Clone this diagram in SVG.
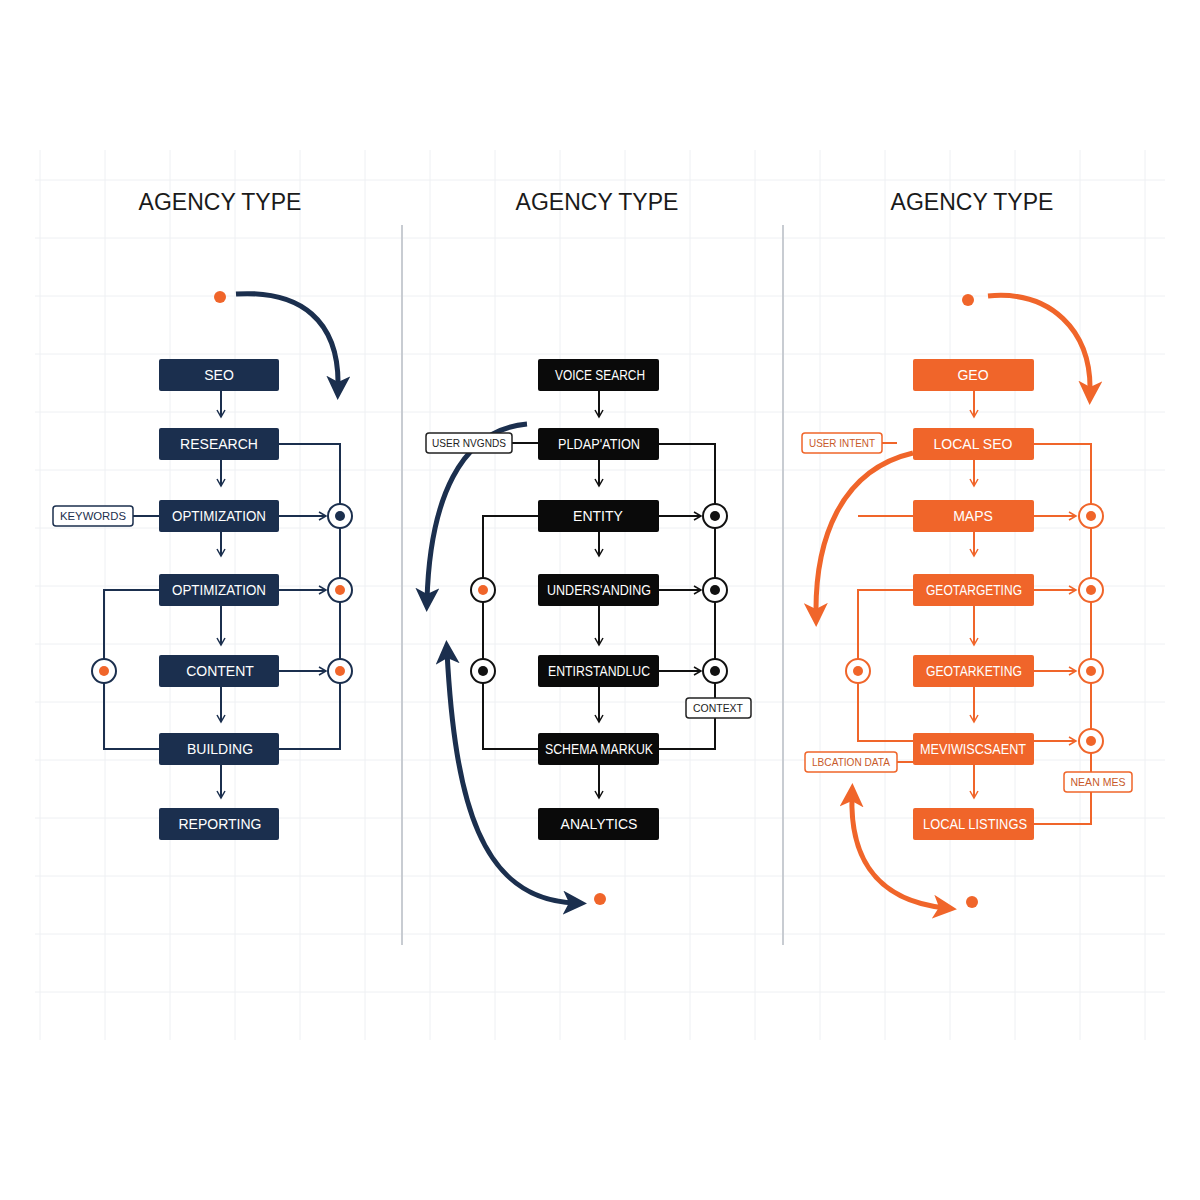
<svg xmlns="http://www.w3.org/2000/svg" width="1200" height="1200" viewBox="0 0 1200 1200">
<style>
.t{font-family:"Liberation Sans",Arial,sans-serif;font-size:14px;fill:#fff;text-anchor:middle;dominant-baseline:central}
.h{font-family:"Liberation Sans",Arial,sans-serif;font-size:23px;fill:#1a1a1a;text-anchor:middle}
.lb{font-family:"Liberation Sans",Arial,sans-serif;font-size:11px;text-anchor:middle;dominant-baseline:central}
.n{stroke:none;fill:#1b2f4e}.k{fill:#0a0a0a}.o{fill:#f0652a}
.cn{fill:none;stroke:#1b2f4e;stroke-width:2}.ck{fill:none;stroke:#111;stroke-width:2}.co{fill:none;stroke:#f0652a;stroke-width:2}
.grid{stroke:#eef0f3;stroke-width:1}
</style>
<defs>
<marker id="an" markerWidth="10" markerHeight="10" refX="8" refY="5" orient="auto" markerUnits="userSpaceOnUse"><path d="M1,1 L8,5 L1,9" fill="none" stroke="#1b2f4e" stroke-width="1.5"/></marker>
<marker id="ak" markerWidth="10" markerHeight="10" refX="8" refY="5" orient="auto" markerUnits="userSpaceOnUse"><path d="M1,1 L8,5 L1,9" fill="none" stroke="#111" stroke-width="1.5"/></marker>
<marker id="ao" markerWidth="10" markerHeight="10" refX="8" refY="5" orient="auto" markerUnits="userSpaceOnUse"><path d="M1,1 L8,5 L1,9" fill="none" stroke="#f0652a" stroke-width="1.5"/></marker>
<marker id="bn" markerWidth="24" markerHeight="24" refX="6" refY="6" orient="auto-start-reverse" markerUnits="userSpaceOnUse" viewBox="0 0 12 12"><path d="M0,0 L12,6 L0,12 L3,6Z" fill="#1b2f4e"/></marker>
<marker id="bo" markerWidth="24" markerHeight="24" refX="6" refY="6" orient="auto-start-reverse" markerUnits="userSpaceOnUse" viewBox="0 0 12 12"><path d="M0,0 L12,6 L0,12 L3,6Z" fill="#f0652a"/></marker>
</defs>
<rect width="1200" height="1200" fill="#fff"/>
<g id="grid" class="grid">
<path d="M40,150V1040M105,150V1040M170,150V1040M235,150V1040M300,150V1040M365,150V1040M430,150V1040M495,150V1040M560,150V1040M625,150V1040M690,150V1040M755,150V1040M820,150V1040M885,150V1040M950,150V1040M1015,150V1040M1080,150V1040M1145,150V1040"/>
<path d="M35,180H1165M35,238H1165M35,296H1165M35,354H1165M35,412H1165M35,470H1165M35,528H1165M35,586H1165M35,644H1165M35,702H1165M35,760H1165M35,818H1165M35,876H1165M35,934H1165M35,992H1165"/>
</g>
<g id="dividers" stroke="#c8ccd2" stroke-width="2"><path d="M402,225V945M783,225V945"/></g>
<g id="titles">
<text class="h" x="220" y="210">AGENCY TYPE</text>
<text class="h" x="597" y="210">AGENCY TYPE</text>
<text class="h" x="972" y="210">AGENCY TYPE</text>
</g>
<g id="connectors">
<path class="cn" d="M221,391V417" marker-end="url(#an)"/><path class="cn" d="M221,460V486" marker-end="url(#an)"/><path class="cn" d="M221,532V556" marker-end="url(#an)"/><path class="cn" d="M221,606V645" marker-end="url(#an)"/><path class="cn" d="M221,687V722" marker-end="url(#an)"/><path class="cn" d="M221,765V798" marker-end="url(#an)"/>
<path class="cn" d="M279,444H340V749H279"/>
<path class="cn" d="M279,516H326" marker-end="url(#an)"/><path class="cn" d="M279,590H326" marker-end="url(#an)"/><path class="cn" d="M279,671H326" marker-end="url(#an)"/>
<path class="cn" d="M159,590H104V749H159M133,516H159"/>
<path d="M236,294 C300,290 340,320 338,388" fill="none" stroke="#1b2f4e" stroke-width="5" marker-end="url(#bn)"/>
<path class="ck" d="M599,391V417" marker-end="url(#ak)"/><path class="ck" d="M599,460V486" marker-end="url(#ak)"/><path class="ck" d="M599,532V556" marker-end="url(#ak)"/><path class="ck" d="M599,606V645" marker-end="url(#ak)"/><path class="ck" d="M599,687V722" marker-end="url(#ak)"/><path class="ck" d="M599,765V798" marker-end="url(#ak)"/>
<path class="ck" d="M659,444H715V749H659M538,516H483V749H538M512,443H538"/>
<path class="ck" d="M659,516H701" marker-end="url(#ak)"/><path class="ck" d="M659,590H701" marker-end="url(#ak)"/><path class="ck" d="M659,671H701" marker-end="url(#ak)"/>
<path d="M527,424 C460,430 430,500 427,600" fill="none" stroke="#1b2f4e" stroke-width="5" marker-end="url(#bn)"/>
<path d="M575,903 C480,900 455,800 447,652" fill="none" stroke="#1b2f4e" stroke-width="5" marker-start="url(#bn)" marker-end="url(#bn)"/>
<path class="co" d="M974,391V417" marker-end="url(#ao)"/><path class="co" d="M974,460V486" marker-end="url(#ao)"/><path class="co" d="M974,532V556" marker-end="url(#ao)"/><path class="co" d="M974,606V645" marker-end="url(#ao)"/><path class="co" d="M974,687V722" marker-end="url(#ao)"/><path class="co" d="M974,765V798" marker-end="url(#ao)"/>
<path class="co" d="M1034,444H1091V824H1034M913,590H858V741H913M858,516H913M882,443H897M897,762H913"/>
<path class="co" d="M1034,516H1076" marker-end="url(#ao)"/><path class="co" d="M1034,590H1076" marker-end="url(#ao)"/><path class="co" d="M1034,671H1076" marker-end="url(#ao)"/><path class="co" d="M1034,741H1076" marker-end="url(#ao)"/>
<path d="M913,453 C840,470 815,540 816,615" fill="none" stroke="#f0652a" stroke-width="5" marker-end="url(#bo)"/>
<path d="M945,908 C870,900 850,850 852,795" fill="none" stroke="#f0652a" stroke-width="5" marker-start="url(#bo)" marker-end="url(#bo)"/>
<path d="M988,296 C1050,290 1092,330 1090,393" fill="none" stroke="#f0652a" stroke-width="5" marker-end="url(#bo)"/>
</g>
<g id="dots">
<circle cx="220" cy="297" r="6" fill="#f0652a"/>
<circle cx="600" cy="899" r="6" fill="#f0652a"/>
<circle cx="972" cy="902" r="6" fill="#f0652a"/>
<circle cx="968" cy="300" r="6" fill="#f0652a"/>
</g>
<g id="junctions" stroke-width="2" fill="#fff">
<g stroke="#1b2f4e"><circle cx="340" cy="516" r="12"/><circle cx="340" cy="590" r="12"/><circle cx="340" cy="671" r="12"/><circle cx="104" cy="671" r="12"/></g>
<circle cx="340" cy="516" r="5" fill="#1b2f4e"/><circle cx="340" cy="590" r="5" fill="#f0652a"/><circle cx="340" cy="671" r="5" fill="#f0652a"/><circle cx="104" cy="671" r="5" fill="#f0652a"/>
<g stroke="#111"><circle cx="715" cy="516" r="12"/><circle cx="715" cy="590" r="12"/><circle cx="715" cy="671" r="12"/><circle cx="483" cy="590" r="12"/><circle cx="483" cy="671" r="12"/></g>
<g fill="#111"><circle cx="715" cy="516" r="5"/><circle cx="715" cy="590" r="5"/><circle cx="715" cy="671" r="5"/><circle cx="483" cy="671" r="5"/></g><circle cx="483" cy="590" r="5" fill="#f0652a"/>
<g stroke="#f0652a"><circle cx="1091" cy="516" r="12"/><circle cx="1091" cy="590" r="12"/><circle cx="1091" cy="671" r="12"/><circle cx="1091" cy="741" r="12"/><circle cx="858" cy="671" r="12"/></g>
<g fill="#f0652a"><circle cx="1091" cy="516" r="5"/><circle cx="1091" cy="590" r="5"/><circle cx="1091" cy="671" r="5"/><circle cx="1091" cy="741" r="5"/><circle cx="858" cy="671" r="5"/></g>
</g>
<g id="labels" stroke-width="1.5" fill="#fff">
<g id="l-keywords"><rect x="53" y="506" width="80" height="20" rx="3" stroke="#1b2f4e"/><text class="lb" x="93" y="516" fill="#1b2f4e" textLength="66" lengthAdjust="spacingAndGlyphs">KEYWORDS</text></g>
<g id="l-user"><rect x="426" y="433" width="86" height="20" rx="3" stroke="#222"/><text class="lb" x="469" y="443" fill="#222" textLength="74" lengthAdjust="spacingAndGlyphs">USER NVGNDS</text></g>
<g id="l-context"><rect x="686" y="698" width="65" height="20" rx="3" stroke="#222"/><text class="lb" x="718" y="708" fill="#222" textLength="50" lengthAdjust="spacingAndGlyphs">CONTEXT</text></g>
<g id="l-intent"><rect x="802" y="433" width="80" height="20" rx="3" stroke="#f0652a"/><text class="lb" x="842" y="443" fill="#c85a2a" textLength="66" lengthAdjust="spacingAndGlyphs">USER INTENT</text></g>
<g id="l-location"><rect x="805" y="752" width="92" height="20" rx="3" stroke="#f0652a"/><text class="lb" x="851" y="762" fill="#c85a2a" textLength="78" lengthAdjust="spacingAndGlyphs">LBCATION DATA</text></g>
<g id="l-nean"><rect x="1064" y="772" width="68" height="20" rx="3" stroke="#f0652a"/><text class="lb" x="1098" y="782" fill="#c85a2a" textLength="55" lengthAdjust="spacingAndGlyphs">NEAN MES</text></g>
</g>
<g id="col1">
<g id="seo"><rect class="n" x="159" y="359" width="120" height="32" rx="2"/><text class="t" x="219" y="375">SEO</text></g>
<g id="research"><rect class="n" x="159" y="428" width="120" height="32" rx="2"/><text class="t" x="219" y="444">RESEARCH</text></g>
<g id="opt1"><rect class="n" x="159" y="500" width="120" height="32" rx="2"/><text class="t" x="219" y="516" textLength="94" lengthAdjust="spacingAndGlyphs">OPTIMIZATION</text></g>
<g id="opt2"><rect class="n" x="159" y="574" width="120" height="32" rx="2"/><text class="t" x="219" y="590" textLength="94" lengthAdjust="spacingAndGlyphs">OPTIMIZATION</text></g>
<g id="content"><rect class="n" x="159" y="655" width="120" height="32" rx="2"/><text class="t" x="220" y="671">CONTENT</text></g>
<g id="building"><rect class="n" x="159" y="733" width="120" height="32" rx="2"/><text class="t" x="220" y="749">BUILDING</text></g>
<g id="reporting"><rect class="n" x="159" y="808" width="120" height="32" rx="2"/><text class="t" x="220" y="824">REPORTING</text></g>
</g>
<g id="col2">
<g id="voice"><rect class="k" x="538" y="359" width="121" height="32" rx="2"/><text class="t" x="600" y="375" textLength="90" lengthAdjust="spacingAndGlyphs">VOICE SEARCH</text></g>
<g id="pldap"><rect class="k" x="538" y="428" width="121" height="32" rx="2"/><text class="t" x="599" y="444" textLength="82" lengthAdjust="spacingAndGlyphs">PLDAP'ATION</text></g>
<g id="entity"><rect class="k" x="538" y="500" width="121" height="32" rx="2"/><text class="t" x="598" y="516">ENTITY</text></g>
<g id="unders"><rect class="k" x="538" y="574" width="121" height="32" rx="2"/><text class="t" x="599" y="590" textLength="104" lengthAdjust="spacingAndGlyphs">UNDERS'ANDING</text></g>
<g id="entir"><rect class="k" x="538" y="655" width="121" height="32" rx="2"/><text class="t" x="599" y="671" textLength="102" lengthAdjust="spacingAndGlyphs">ENTIRSTANDLUC</text></g>
<g id="schema"><rect class="k" x="538" y="733" width="121" height="32" rx="2"/><text class="t" x="599" y="749" textLength="108" lengthAdjust="spacingAndGlyphs">SCHEMA MARKUK</text></g>
<g id="analytics"><rect class="k" x="538" y="808" width="121" height="32" rx="2"/><text class="t" x="599" y="824">ANALYTICS</text></g>
</g>
<g id="col3">
<g id="geo"><rect class="o" x="913" y="359" width="121" height="32" rx="2"/><text class="t" x="973" y="375">GEO</text></g>
<g id="localseo"><rect class="o" x="913" y="428" width="121" height="32" rx="2"/><text class="t" x="973" y="444">LOCAL SEO</text></g>
<g id="maps"><rect class="o" x="913" y="500" width="121" height="32" rx="2"/><text class="t" x="973" y="516">MAPS</text></g>
<g id="geot1"><rect class="o" x="913" y="574" width="121" height="32" rx="2"/><text class="t" x="974" y="590" textLength="96" lengthAdjust="spacingAndGlyphs">GEOTARGETING</text></g>
<g id="geot2"><rect class="o" x="913" y="655" width="121" height="32" rx="2"/><text class="t" x="974" y="671" textLength="96" lengthAdjust="spacingAndGlyphs">GEOTARKETING</text></g>
<g id="meviw"><rect class="o" x="913" y="733" width="121" height="32" rx="2"/><text class="t" x="973" y="749" textLength="106" lengthAdjust="spacingAndGlyphs">MEVIWISCSAENT</text></g>
<g id="listings"><rect class="o" x="913" y="808" width="121" height="32" rx="2"/><text class="t" x="975" y="824" textLength="104" lengthAdjust="spacingAndGlyphs">LOCAL LISTINGS</text></g>
</g>
</svg>
